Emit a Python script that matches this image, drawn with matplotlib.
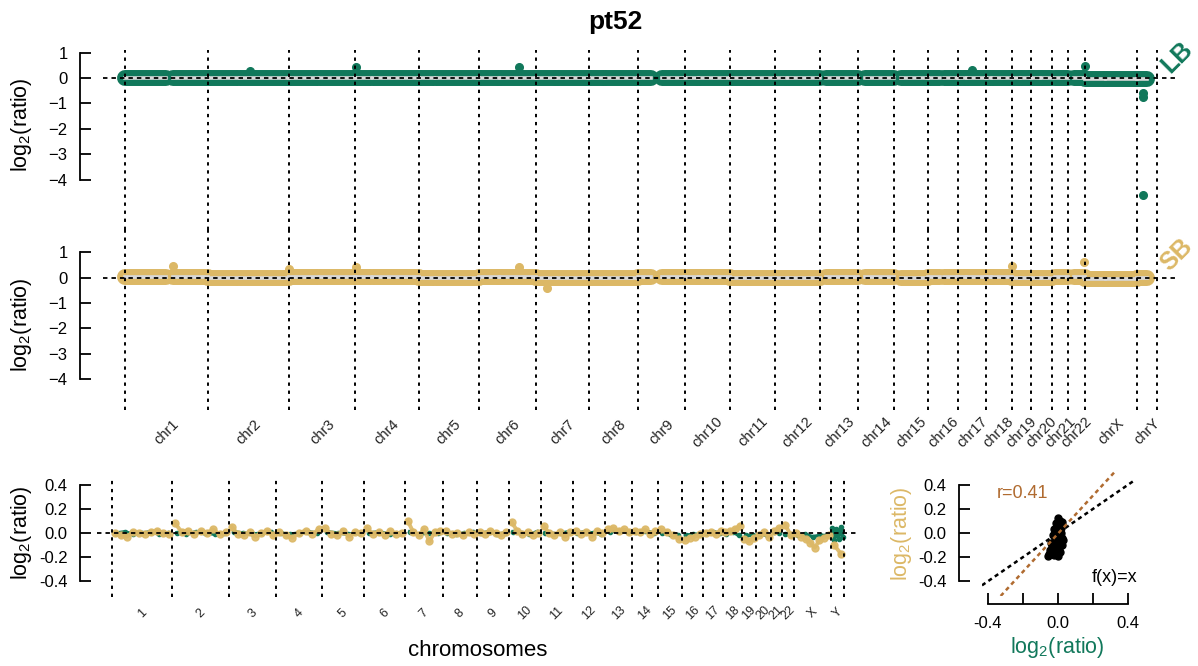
import numpy as np
import matplotlib
matplotlib.use("Agg")
import matplotlib.pyplot as plt
from matplotlib.transforms import blended_transform_factory

plt.rcParams['font.family'] = ['Liberation Sans', 'DejaVu Sans']
plt.rcParams['mathtext.default'] = 'regular'
plt.rcParams['lines.scale_dashes'] = False

GREEN = '#11785b'
GOLD = '#dcb866'
BROWN = '#b06b30'

sample = 'pt52'

# hg19 chromosome sizes (Mb) and probe-free regions (start, end)
chrom_names = ['1', '2', '3', '4', '5', '6', '7', '8', '9', '10', '11', '12',
               '13', '14', '15', '16', '17', '18', '19', '20', '21', '22', 'X', 'Y']
chrom_mb = [249.25, 243.20, 198.02, 191.15, 180.92, 171.12, 159.14, 146.36,
            141.21, 135.53, 135.01, 133.85, 115.17, 107.35, 102.53, 90.35,
            81.20, 78.08, 59.13, 63.03, 48.13, 51.30, 155.27, 59.37]
gap_mb = [(121.5, 142.5), (90.5, 95.3), (87.9, 93.9), (48.2, 52.7), (46.4, 50.0),
          (58.8, 62.0), (58.1, 61.9), (43.8, 46.9), (38.8, 71.0), (38.3, 42.3),
          (51.6, 55.7), (34.8, 38.2), (0, 19.0), (0, 19.0), (0, 20.0), (35.3, 46.4),
          (22.2, 25.3), (15.4, 18.5), (24.6, 28.6), (26.3, 30.0), (0, 9.4), (0, 16.0),
          (58.6, 61.7), (28.0, 58.0)]

# segment means per chromosome
lb_mean = [0.00, -0.01, 0.00, 0.00, 0.00, 0.01, 0.00, 0.00, 0.00, 0.00, 0.01, 0.00,
           0.00, 0.00, 0.00, 0.01, 0.01, 0.00, 0.00, 0.00, 0.00, 0.01, -0.03, -0.02]
sb_mean = [0.02, 0.00, 0.01, 0.02, 0.00, 0.01, 0.00, 0.00, 0.01, 0.01, 0.00, 0.00,
           0.02, 0.01, 0.00, 0.01, 0.02, 0.03, -0.02, 0.00, 0.02, 0.03, -0.06, 0.00]

# single bins standing out of the band
lb_out_chr = ['2', '4', '6', '17', '22', 'Y', 'Y', 'Y']
lb_out_mb = [126, 1, 120, 40, 49, 18, 18, 18]
lb_out_val = [0.27, 0.42, 0.45, 0.33, 0.47, -0.60, -0.75, -4.6]
sb_out_chr = ['1', '2', '4', '6', '7', '19', '22']
sb_out_mb = [144, 242, 1, 120, 32, 1, 48]
sb_out_val = [0.47, 0.33, 0.40, 0.40, -0.43, 0.45, 0.60]

# smoothed profile: bins per chromosome and values
bin_counts = [60, 57, 47, 46, 42, 41, 38, 34, 32, 32, 32, 32, 27, 26, 24, 21,
              20, 19, 14, 15, 11, 12, 37, 13]
sb_bins = [
    [0.00, -0.02, -0.03, 0.01, 0.00, -0.01, 0.01, 0.02, 0.00, -0.01],
    [0.08, 0.01, 0.02, -0.01, 0.02, 0.00, 0.03, -0.01, 0.01],
    [0.05, -0.01, -0.02, 0.01, -0.03, 0.00, 0.02, -0.02],
    [0.01, -0.02, -0.04, 0.00, 0.02, -0.01, 0.03],
    [0.04, -0.01, -0.02, 0.02, -0.03, 0.01, 0.00],
    [0.04, -0.01, 0.01, -0.02, 0.02, -0.01, 0.00],
    [0.10, 0.01, -0.02, 0.03, -0.07, 0.01, 0.02],
    [0.02, -0.01, 0.00, -0.02, 0.01, -0.01],
    [0.01, -0.01, 0.02, 0.00, -0.02, 0.01],
    [0.09, 0.02, -0.01, 0.01, -0.02, 0.00],
    [0.06, 0.00, -0.02, 0.01, -0.03, 0.01],
    [0.02, -0.01, 0.01, -0.03, 0.02, 0.00],
    [0.03, 0.04, 0.02, 0.03, 0.01],
    [0.02, 0.01, 0.03, -0.01, 0.02],
    [0.03, 0.01, -0.02, -0.05],
    [-0.06, -0.04, -0.03, -0.01],
    [0.00, 0.01, -0.01, 0.02],
    [0.01, 0.02, 0.03, 0.06],
    [-0.05, -0.07, -0.04],
    [-0.02, 0.01, -0.03],
    [0.02, 0.04],
    [0.07, -0.02],
    [0.00, -0.03, -0.05, -0.08, -0.12, -0.06, -0.04, -0.02],
    [-0.10, -0.17],
]
lb_bins = [
    [0.00, 0.01, -0.01, 0.00, 0.01, -0.01, 0.00],
    [0.00, -0.01, 0.01, 0.00, -0.01, 0.00],
    [0.01, 0.00, -0.01, 0.00, 0.01],
    [0.00, -0.01, 0.00, 0.01, 0.00],
    [0.01, 0.00, -0.01, 0.00],
    [0.00, 0.01, -0.01, 0.00],
    [0.01, -0.01, 0.00, 0.00],
    [0.00, -0.01, 0.00, 0.01],
    [0.00, 0.01, -0.01, 0.00],
    [0.01, 0.00, -0.01, 0.01],
    [0.00, -0.01, 0.00, 0.01],
    [0.00, 0.01, 0.00, -0.01],
    [0.01, 0.02, 0.01],
    [0.01, 0.02, 0.00],
    [0.00, -0.01, -0.02],
    [-0.02, -0.01, -0.01],
    [0.00, 0.01, 0.00],
    [-0.01, 0.01, -0.02],
    [-0.02, -0.02],
    [-0.01, -0.02],
    [0.01, 0.00],
    [-0.01, -0.02],
    [-0.02, -0.01, -0.03, -0.02, -0.02],
    [0.04, -0.06, 0.03, -0.05, 0.05, -0.03],
]

# LB vs SB per-bin scatter
sc_lb = [0.00, 0.01, -0.01, 0.005, 0.02, -0.02, 0.00, 0.015, -0.03, 0.01,
         -0.015, 0.025, -0.04, -0.02, 0.00, 0.03, -0.05, -0.055, -0.03, 0.005,
         -0.01, 0.02, -0.025, 0.00, 0.01, -0.045, -0.035, 0.015, -0.005, 0.025]
sc_sb = [0.12, 0.10, 0.08, 0.06, 0.07, 0.03, 0.02, 0.00, -0.02, -0.03,
         -0.05, -0.04, -0.08, -0.10, -0.07, -0.06, -0.17, -0.19, -0.13, -0.12,
         -0.15, -0.10, -0.18, -0.19, -0.16, -0.14, -0.11, 0.04, -0.01, 0.09]
fit_slope = 1.58
fit_intercept = -0.005
r_value = 0.41

W, H = 1198, 666
YLAB = 'log$_2$(ratio)'


def box(x0, y0, x1, y1):
    return [x0 / W, 1 - y1 / H, (x1 - x0) / W, (y1 - y0) / H]


def ftext(x, y, s, **kw):
    # place text by pixel position, centred
    return fig.text(x / W, 1 - y / H, s, ha='center', va='center', **kw)


def style_y(ax, lo, hi, out_px):
    for s in ['top', 'right', 'bottom']:
        ax.spines[s].set_visible(False)
    ax.spines['left'].set_position(('outward', out_px * 0.72))
    ax.spines['left'].set_bounds(lo, hi)
    ax.spines['left'].set_linewidth(1.3)
    ax.tick_params(axis='y', direction='in', length=8, width=1.3, pad=9, labelsize=12)
    ax.set_xticks([])


fig = plt.figure(figsize=(W / 100, H / 100), dpi=100)

starts = np.concatenate([[0], np.cumsum(chrom_mb)])
genome_end = starts[-1]
xpad_l = 22 / 0.3334
xpad_r = 21 / 0.3334

dotted = (0, (2.4, 3.4))
dashed = (0, (3.2, 2.9))

ax1 = fig.add_axes(box(103, 50, 1178, 230))
ax2 = fig.add_axes(box(103, 230, 1178, 410))
panels = [(ax1, lb_mean, lb_out_chr, lb_out_mb, lb_out_val, GREEN, 78 - 50, 230 - 78, 125),
          (ax2, sb_mean, sb_out_chr, sb_out_mb, sb_out_val, GOLD, 277.5 - 230, 410 - 277.5, 325)]

for ax, means, ochr, omb, oval, col, up_px, dn_px, lab_y in panels:
    ax.set_xlim(-xpad_l, genome_end + xpad_r)
    ax.set_ylim(-dn_px / 25.4, up_px / 25.4)
    for i, L in enumerate(chrom_mb):
        g0, g1 = gap_mb[i]
        arms = [(g1, L)] if g0 == 0 else [(0, g0), (g1, L)]
        for a0, a1 in arms:
            xs = [starts[i] + a0, starts[i] + a1]
            ax.plot(xs, [means[i]] * 2, color=col, lw=11.5, solid_capstyle='round', zorder=2)
            ax.plot(xs, [means[i]] * 2, color='#d8d8d8', lw=2.6, zorder=3)
    ox = [starts[chrom_names.index(c)] + m for c, m in zip(ochr, omb)]
    ax.plot(ox, oval, 'o', color=col, ms=5.5, zorder=2)
    ax.axhline(0, color='black', lw=1.3, ls=dashed, zorder=5)
    for b in starts:
        ax.axvline(b, color='black', lw=1.4, ls=dotted, zorder=6)
    style_y(ax, -4, 1, 23)
    ax.set_yticks([-4, -3, -2, -1, 0, 1])
    ftext(22, lab_y, YLAB, fontsize=15.5, rotation=90)

mids = (starts[:-1] + starts[1:]) / 2
tr = blended_transform_factory(ax2.transData, fig.transFigure)
for m, name in zip(mids, chrom_names):
    ax2.text(m, 1 - 432 / H, 'chr' + name, rotation=45, ha='center', va='center',
             fontsize=10.5, color='#222222', transform=tr, clip_on=False)

ftext(1177, 57, 'LB', rotation=45, color=GREEN, fontsize=18, fontweight='bold')
ftext(1177, 255, 'SB', rotation=45, color=GOLD, fontsize=18, fontweight='bold')
ftext(615, 22, sample, fontsize=19, fontweight='bold')

# smoothed profile of both samples
ax3 = fig.add_axes(box(97, 477, 857, 597))
bstarts = np.concatenate([[0], np.cumsum(bin_counts)])
ax3.set_xlim(-15, bstarts[-1] + 13)
ax3.set_ylim(-0.529, 0.463)
for i, n in enumerate(bin_counts):
    s = bstarts[i]
    gx = s + (np.arange(len(lb_bins[i])) + 0.5) * n / len(lb_bins[i])
    ax3.plot(gx, lb_bins[i], '-o', color=GREEN, lw=2.5, ms=3, zorder=2)
    sx = s + (np.arange(len(sb_bins[i])) + 0.5) * n / len(sb_bins[i])
    ax3.plot(sx, sb_bins[i], '-o', color=GOLD, lw=2.8, ms=5, zorder=3, alpha=0.9)
ax3.axhline(0, color='black', lw=1.3, ls=dashed, zorder=5)
for b in bstarts:
    ax3.axvline(b, color='black', lw=1.4, ls=dotted, zorder=6)
style_y(ax3, -0.4, 0.4, 17)
ax3.set_yticks([-0.4, -0.2, 0.0, 0.2, 0.4])
ax3.set_yticklabels(['-0.4', '-0.2', '0.0', '0.2', '0.4'])
ftext(22, 533, YLAB, fontsize=15.5, rotation=90)
bmids = (bstarts[:-1] + bstarts[1:]) / 2
tr3 = blended_transform_factory(ax3.transData, fig.transFigure)
for m, name in zip(bmids, chrom_names):
    ax3.text(m, 1 - 613 / H, name, rotation=45, ha='center', va='center',
             fontsize=9, color='#222222', transform=tr3, clip_on=False)
ftext(478, 650, 'chromosomes', fontsize=16)

# LB vs SB scatter
ax4 = fig.add_axes(box(982, 470, 1134, 596))
ax4.set_xlim(-0.432, 0.432)
ax4.set_ylim(-0.52, 0.52)
ax4.plot(sc_lb, sc_sb, 'o', color='black', ms=5, zorder=2)
ax4.axline((0, 0), slope=1, color='black', lw=1.8, ls=(0, (3, 2.6)), zorder=3)
ax4.axline((0, fit_intercept), slope=fit_slope, color=BROWN, lw=1.8, ls=(0, (3, 2.6)), zorder=3)
for s in ['top', 'right']:
    ax4.spines[s].set_visible(False)
ax4.spines['left'].set_position(('outward', 23 * 0.72))
ax4.spines['bottom'].set_position(('outward', 8 * 0.72))
ax4.spines['left'].set_bounds(-0.4, 0.4)
ax4.spines['bottom'].set_bounds(-0.4, 0.4)
for s in ['left', 'bottom']:
    ax4.spines[s].set_linewidth(1.3)
ax4.tick_params(direction='in', length=8, width=1.3, pad=9, labelsize=12)
ax4.set_yticks([-0.4, -0.2, 0.0, 0.2, 0.4])
ax4.set_yticklabels(['-0.4', '-0.2', '0.0', '0.2', '0.4'])
ax4.set_xticks([-0.4, -0.2, 0.0, 0.2, 0.4])
ax4.set_xticklabels(['-0.4', '', '0.0', '', '0.4'])
ftext(1057, 648, YLAB, fontsize=15.5, color=GREEN)
ftext(902, 534, YLAB, fontsize=15.5, color=GOLD, rotation=90)
ax4.text(-0.2, 0.33, 'r=%.2f' % r_value, color=BROWN, fontsize=13, ha='center', va='center')
ax4.text(0.32, -0.37, 'f(x)=x', color='black', fontsize=13, ha='center', va='center')

fig.savefig('out.png', dpi=100)
